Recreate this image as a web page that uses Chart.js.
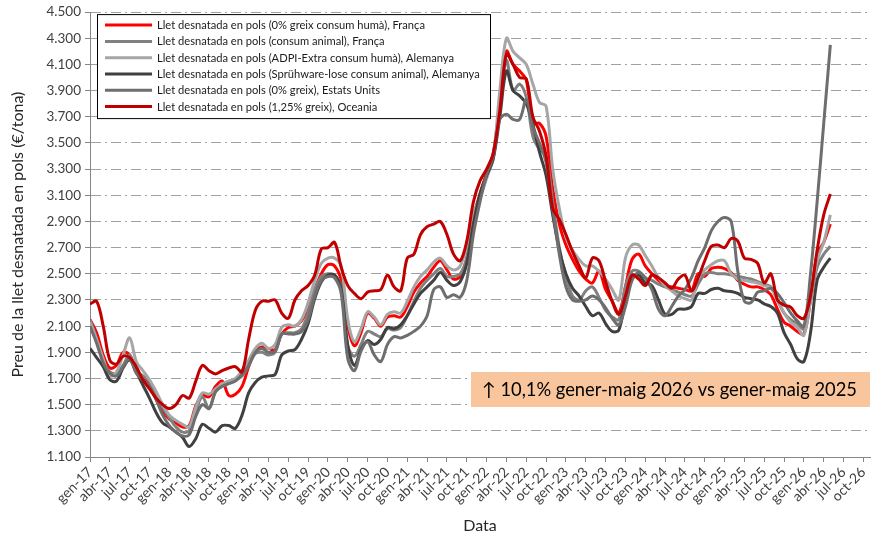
<!DOCTYPE html>
<html>
<head>
<meta charset="utf-8">
<script src="https://cdn.jsdelivr.net/npm/chart.js@4.4.1/dist/chart.umd.min.js"></script>
<style>
  html, body { margin: 0; padding: 0; background: #ffffff; }
  #grafica { display: block; }
</style>
</head>
<body>
<canvas id="grafica" width="879" height="538"></canvas>
<script>
// Preu de la llet desnatada en pols (€/tona), un valor per mes de gen-17 a mai-26

const mesos = ['gen', 'feb', 'mar', 'abr', 'mai', 'jun', 'jul', 'ago', 'set', 'oct', 'nov', 'des'];
const anyInicial = 17;
const mesosEix = 119;          // gen-17 ... nov-26
const cadaQuants = 3;          // etiqueta cada 3 mesos (gen, abr, jul, oct)
const darreraEtiqueta = 117;   // oct-26

const franca0 = [
  2150, 2050, 1880, 1780, 1800, 1900, 1880, 1760, 1710, 1650, 1540, 1450,
  1390, 1360, 1330, 1340, 1490, 1570, 1560, 1640, 1680, 1570, 1580, 1640,
  1790, 1910, 1940, 1930, 1920, 2040, 2090, 2100, 2140, 2240, 2380, 2500,
  2570, 2560, 2450, 2100, 1950, 2050, 2200, 2160, 2100, 2170, 2180, 2170,
  2250, 2360, 2430, 2480, 2550, 2600, 2530, 2460, 2480, 2620, 2930, 3110,
  3270, 3420, 3800, 4200, 4100, 4050, 3980, 3650, 3650, 3550, 3150, 2880,
  2720, 2610, 2520, 2460, 2430, 2520, 2380, 2290, 2200, 2400, 2610, 2650,
  2560, 2500, 2450, 2410, 2400, 2390, 2380, 2370, 2500, 2480, 2540, 2550,
  2540, 2510, 2450, 2420, 2400, 2400, 2380, 2340, 2230, 2130, 2100, 2060,
  2040, 2300, 2650, 2740, 2880
];

const francaAnimal = [
  2150, 2000, 1830, 1750, 1740, 1800, 1880, 1750, 1720, 1680, 1580, 1480,
  1400, 1330, 1290, 1300, 1450, 1560, 1470, 1600, 1650, 1680, 1690, 1720,
  1800, 1890, 1900, 1880, 1900, 2040, 2050, 2050, 2080, 2200, 2380, 2480,
  2500, 2490, 2400, 1950, 1870, 1960, 2060, 2040, 2020, 2080, 2070, 2090,
  2180, 2290, 2390, 2450, 2500, 2540, 2480, 2480, 2500, 2620, 2900, 3080,
  3240, 3380, 3780, 4130, 3900, 3950, 3850, 3550, 3450, 3400, 3050, 2700,
  2480, 2330, 2300, 2370, 2400, 2320, 2220, 2170, 2150, 2400, 2520, 2520,
  2470, 2450, 2420, 2400, 2380, 2360, 2340, 2330, 2420, 2500, 2510, 2500,
  2500, 2490, 2480, 2470, 2460, 2440, 2420, 2400, 2300, 2200, 2150, 2120,
  2080, 2300, 2550, 2650, 2710
];

const alemanyaADPI = [
  2130, 2000, 1850, 1720, 1750, 1880, 2010, 1830, 1760, 1690, 1600, 1500,
  1420, 1380, 1350, 1330, 1480, 1590, 1580, 1620, 1660, 1680, 1700, 1760,
  1840, 1930, 1970, 1930, 1960, 2090, 2110, 2100, 2150, 2280, 2450, 2580,
  2620, 2620, 2560, 2150, 1980, 2080, 2210, 2170, 2110, 2190, 2210, 2200,
  2290, 2400, 2480, 2530, 2590, 2620, 2560, 2530, 2560, 2720, 2960, 3080,
  3230, 3400, 3900, 4300, 4200, 4150, 4100, 3950, 3810, 3780, 3300, 3000,
  2780, 2680, 2610, 2560, 2560, 2520, 2460, 2380, 2300, 2620, 2720, 2720,
  2640, 2560, 2470, 2410, 2370, 2330, 2310, 2300, 2470, 2530, 2570, 2600,
  2600, 2500, 2460, 2450, 2440, 2430, 2410, 2390, 2300, 2200, 2130, 2090,
  2030, 2300, 2600, 2740, 2950
];

const alemanyaSpruh = [
  1930, 1860, 1790, 1690, 1680, 1780, 1840, 1750, 1650, 1550, 1440, 1360,
  1330, 1290, 1250, 1180, 1240, 1350, 1320, 1290, 1340, 1340, 1320, 1420,
  1590, 1670, 1710, 1720, 1730, 1880, 1910, 1920, 2000, 2120, 2310, 2440,
  2490, 2490, 2380, 1950, 1800, 1920, 1990, 1960, 2000, 2090, 2080, 2110,
  2180, 2270, 2350, 2400, 2450, 2510, 2450, 2410, 2440, 2580, 2880, 3110,
  3250, 3380, 3700, 4050, 3900, 3860, 3800, 3640, 3430, 3250, 2950, 2680,
  2500, 2390, 2330, 2250, 2180, 2200, 2120, 2060, 2070, 2300, 2460, 2490,
  2430, 2410, 2300, 2190, 2190, 2230, 2230, 2250, 2350, 2350, 2380, 2390,
  2370, 2365, 2350, 2320, 2310, 2300, 2270, 2250, 2200, 2050, 1960, 1850,
  1830, 2050, 2450, 2550, 2620
];

const estatsUnits = [
  2100, 1970, 1820, 1740, 1720, 1790, 1850, 1740, 1690, 1640, 1540, 1420,
  1340, 1290, 1260, 1270, 1410, 1500, 1470, 1600, 1640, 1660, 1680, 1730,
  1800, 1900, 1930, 1900, 1910, 2040, 2040, 2040, 2060, 2150, 2330, 2450,
  2480, 2470, 2350, 1850, 1760, 1910, 1980, 1880, 1830, 1960, 2020, 2010,
  2030, 2060, 2100, 2180, 2380, 2400, 2320, 2340, 2320, 2450, 2800, 3050,
  3260, 3400, 3680, 3720, 3680, 3680, 3830, 3620, 3500, 3350, 3000, 2650,
  2400, 2300, 2290, 2300, 2330, 2300, 2240, 2160, 2110, 2250, 2450, 2510,
  2470, 2380, 2230, 2180, 2250, 2330, 2380, 2470, 2600, 2700, 2830, 2900,
  2930, 2900, 2520, 2290, 2280, 2360, 2370, 2390, 2350, 2280, 2200, 2140,
  2100, 2500, 3050, 3650, 4250
];

const oceania = [
  2270, 2290, 2100, 1840, 1810, 1870, 1860, 1790, 1690, 1620, 1550, 1500,
  1470, 1500, 1570, 1550, 1680, 1800, 1760, 1735, 1760, 1780, 1790, 1750,
  2000, 2220, 2290, 2290, 2300, 2200, 2160, 2300, 2370, 2410, 2490, 2690,
  2700, 2740, 2550, 2410, 2350, 2310, 2360, 2370, 2380, 2490, 2400, 2370,
  2620, 2650, 2800, 2860, 2880, 2900, 2800, 2650, 2600, 2750, 3050, 3210,
  3300, 3420, 3750, 4180, 4100, 4000, 3990, 3700, 3590, 3400, 3000, 2915,
  2800, 2670, 2560, 2470, 2620, 2600, 2440, 2290, 2190, 2330, 2490, 2460,
  2410, 2490, 2470, 2430, 2390, 2460, 2490, 2370, 2470, 2600, 2710, 2720,
  2700, 2770, 2750, 2620, 2610, 2580, 2430, 2500, 2300, 2260, 2245, 2180,
  2160, 2330, 2680, 2950, 3110
];

const noms = [
  'Llet desnatada en pols (0% greix consum humà), França',
  'Llet desnatada en pols (consum animal), França',
  'Llet desnatada en pols (ADPI-Extra consum humà), Alemanya',
  'Llet desnatada en pols (Sprühware-lose consum animal), Alemanya',
  'Llet desnatada en pols (0% greix), Estats Units',
  'Llet desnatada en pols (1,25% greix), Oceania'
];
const colors = ['#FF0000', '#808080', '#A6A6A6', '#404040', '#6E6E6E', '#C00000'];

const textNota = '\u2191 10,1% gener-maig 2026 vs gener-maig 2025';

// etiquetes de l'eix X
const etiquetes = [];
for (let i = 0; i < mesosEix; i++) {
  etiquetes.push(mesos[i % 12] + '-' + (anyInicial + Math.floor(i / 12)));
}
const posicionsTicks = [];
for (let i = 0; i <= darreraEtiqueta; i += cadaQuants) posicionsTicks.push(i);

function milers(v) {
  return String(v).replace(/\B(?=(\d{3})+(?!\d))/g, '.');
}

const totesSeries = [franca0, francaAnimal, alemanyaADPI, alemanyaSpruh, estatsUnits, oceania];

const datasets = totesSeries.map((serie, k) => ({
  label: noms[k],
  data: serie.map((v, i) => ({ x: i, y: v })),
  borderColor: colors[k],
  backgroundColor: colors[k],
  borderWidth: 3,
  pointRadius: 0,
  tension: 0.35,
  fill: false,
  order: totesSeries.length - k
}));

// llegenda dins de l'area del grafic i quadre de la nota
const extres = {
  id: 'extres',
  afterDraw(chart) {
    const ctx = chart.ctx;
    const area = chart.chartArea;
    ctx.save();

    // llegenda
    const lx = area.left + 7, ly = area.top + 2, lw = 393, lh = 104;
    ctx.fillStyle = '#ffffff';
    ctx.fillRect(lx, ly, lw, lh);
    ctx.strokeStyle = '#000000';
    ctx.lineWidth = 1;
    ctx.strokeRect(lx + 0.5, ly + 0.5, lw, lh);

    let mida = 11;
    ctx.font = mida + 'px Lato';
    const ample = ctx.measureText(noms[3]).width;
    mida = mida * 323 / ample;
    ctx.font = mida.toFixed(2) + 'px Lato';
    ctx.textBaseline = 'middle';
    chart.data.datasets.forEach((ds, i) => {
      const yy = ly + 11 + i * 16.3;
      ctx.strokeStyle = ds.borderColor;
      ctx.lineWidth = 3;
      ctx.beginPath();
      ctx.moveTo(lx + 8, yy);
      ctx.lineTo(lx + 55, yy);
      ctx.stroke();
      ctx.fillStyle = '#1a1a1a';
      ctx.fillText(ds.label, lx + 60, yy + 0.5);
    });

    // nota
    const nx = 471, ny = 372, nw = area.right - nx, nh = 35;
    ctx.fillStyle = '#F8C59C';
    ctx.fillRect(nx, ny, nw, nh);
    let m2 = 18;
    ctx.font = m2 + 'px Lato';
    m2 = m2 * 375 / ctx.measureText(textNota).width;
    ctx.font = m2.toFixed(2) + 'px Lato';
    ctx.fillStyle = '#000000';
    ctx.textBaseline = 'middle';
    ctx.fillText(textNota, 482, ny + nh / 2 + 1);

    ctx.restore();
  }
};

Chart.defaults.font.family = 'Lato';

new Chart(document.getElementById('grafica'), {
  type: 'line',
  data: { datasets: datasets },
  options: {
    responsive: false,
    animation: false,
    devicePixelRatio: 1,
    layout: { padding: { top: 12, right: 9, left: 0, bottom: 0 } },
    plugins: {
      legend: { display: false },
      tooltip: { enabled: false }
    },
    scales: {
      x: {
        type: 'linear',
        min: 0,
        max: mesosEix - 1,
        afterBuildTicks: (eix) => {
          eix.ticks = posicionsTicks.map(v => ({ value: v }));
        },
        afterFit: (eix) => { eix.height = 81; },
        grid: {
          drawOnChartArea: false,
          drawTicks: true,
          tickLength: 5,
          tickColor: '#868686',
          tickBorderDash: []
        },
        border: { display: true, color: '#868686', width: 1 },
        ticks: {
          autoSkip: false,
          minRotation: 45,
          maxRotation: 45,
          padding: 2,
          color: '#404040',
          font: { size: 14 },
          callback: (v) => etiquetes[v]
        },
        title: {
          display: true,
          text: 'Data',
          color: '#262626',
          font: { size: 16 },
          padding: { top: 0, bottom: 3 }
        }
      },
      y: {
        min: 1100,
        max: 4500,
        afterFit: (eix) => { eix.width = 90; },
        grid: {
          color: '#A0A0A0',
          lineWidth: 1,
          drawTicks: true,
          tickLength: 5,
          tickColor: '#868686',
          tickBorderDash: []
        },
        border: { display: true, color: '#868686', width: 1, dash: [10, 4, 2, 4] },
        ticks: {
          stepSize: 200,
          padding: 4,
          color: '#404040',
          font: { size: 13.5 },
          callback: (v) => milers(v)
        },
        title: {
          display: true,
          text: 'Preu de la llet desnatada en pols (€/tona)',
          color: '#262626',
          font: { size: 16 },
          padding: { top: 8, bottom: 0 }
        }
      }
    }
  },
  plugins: [extres]
});
</script>
</body>
</html>
